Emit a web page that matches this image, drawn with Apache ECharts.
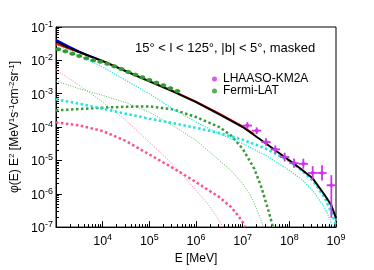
<!DOCTYPE html>
<html><head><meta charset="utf-8">
<script src="https://cdn.jsdelivr.net/npm/echarts@6/dist/echarts.min.js"></script>
<style>html,body{margin:0;padding:0;background:#fff}#c{width:374px;height:270px}</style>
</head><body><div id="c"></div>
<script>
// ================= DATA =================
// Model curves: energy [MeV] and phi(E)E^2 [MeV s^-1 cm^-2 sr^-1]
const totalE = [1e3, 1778, 3162, 5623, 1e4, 3.162e4, 1e5, 3.162e5, 1e6, 3.162e6, 1e7, 3.162e7, 5.623e7, 1e8, 1.778e8, 3.162e8, 5.623e8, 7.943e8, 1e9];
const totalY = [3.63e-2, 2.5e-2, 1.78e-2, 1.29e-2, 9.5e-3, 4.7e-3, 2.35e-3, 1.17e-3, 5.6e-4, 2.4e-4, 1.0e-4, 3.2e-5, 1.78e-5, 1.0e-5, 5.5e-6, 2.9e-6, 9.5e-7, 4.5e-7, 1.86e-7];

const redE = [1e3, 1778, 3162, 5623, 1e4, 3.162e4, 1e5, 3.162e5, 1e6, 3.162e6, 1e7, 1.778e7];
const redY = [3.15e-2, 2.3e-2, 1.72e-2, 1.28e-2, 9.7e-3, 4.85e-3, 2.43e-3, 1.24e-3, 5.9e-4, 2.55e-4, 1.06e-4, 6.1e-5];

const blueE = [1e3, 1778, 3162, 5623, 1e4];
const blueY = [4.1e-2, 2.7e-2, 1.82e-2, 1.3e-2, 9.5e-3];

const cyanThinE = [1e3, 3162, 1e4, 3.162e4, 1e5, 3.162e5, 1e6, 3.162e6, 1e7, 3.162e7, 1e8, 1.778e8, 3.162e8, 5.623e8, 7.079e8, 8.511e8];
const cyanThinY = [3.0e-2, 1.41e-2, 6.3e-3, 2.5e-3, 1.0e-3, 3.55e-4, 1.41e-4, 6.3e-5, 3.2e-5, 1.41e-5, 5.0e-6, 2.8e-6, 1.26e-6, 4.0e-7, 2.0e-7, 1.0e-7];

const cyanThickE = [1e3, 3162, 1e4, 3.162e4, 1e5, 3.162e5, 1e6, 3.162e6, 1e7, 3.162e7, 1e8, 1.778e8, 3.162e8, 5.623e8, 7.943e8, 1e9];
const cyanThickY = [6.8e-4, 5.0e-4, 3.55e-4, 2.5e-4, 1.78e-4, 1.32e-4, 9.5e-5, 6.6e-5, 4.2e-5, 2.24e-5, 9.5e-6, 5.2e-6, 2.5e-6, 7.9e-7, 2.8e-7, 1.12e-7];

const greenThickE = [1e3, 3162, 1e4, 3.162e4, 1e5, 3.162e5, 1e6, 1.778e6, 3.162e6, 5.623e6, 1e7, 1.778e7, 2.512e7, 3.548e7, 4.467e7];
const greenThickY = [3.16e-4, 3.47e-4, 3.8e-4, 4.07e-4, 4.17e-4, 3.4e-4, 2.0e-4, 1.41e-4, 1.0e-4, 5.6e-5, 2.24e-5, 5.6e-6, 1.58e-6, 3.2e-7, 1.0e-7];

const greenThinE = [1e3, 3162, 1e4, 3.162e4, 1e5, 3.162e5, 1e6, 3.162e6, 5.623e6, 1e7, 1.413e7, 1.995e7, 2.818e7];
const greenThinY = [2.4e-3, 1.41e-3, 8.9e-4, 5.4e-4, 2.8e-4, 1.12e-4, 4.0e-5, 1.0e-5, 5.0e-6, 2.0e-6, 1.0e-6, 3.5e-7, 1.0e-7];

const pinkThinE = [1e3, 3162, 1e4, 3.162e4, 1e5, 3.162e5, 1e6, 1.778e6, 2.818e6, 3.981e6];
const pinkThinY = [5.2e-3, 1.78e-3, 5.6e-4, 1.58e-4, 3.5e-5, 7.9e-6, 1.26e-6, 5.0e-7, 2.0e-7, 8.9e-8];

const pinkThickE = [1e3, 3162, 1e4, 3.162e4, 1e5, 3.162e5, 1e6, 3.162e6, 5.623e6, 7.943e6, 1e7, 1.122e7];
const pinkThickY = [1.38e-4, 1.12e-4, 7.6e-5, 3.8e-5, 1.51e-5, 6.0e-6, 2.24e-6, 7.9e-7, 4.0e-7, 2.24e-7, 1.41e-7, 1.0e-7];

// Fermi-LAT data points
const fermiE   = [1122, 1585, 2239, 3162, 4467, 6310, 8913, 12589, 17783, 25119, 35481, 50119, 70795, 100000, 141254, 199526, 281838, 398107];
const fermiElo = [1000, 1380, 1950, 2754, 3890, 5495, 7762, 10965, 15488, 21878, 30903, 43652, 61660, 87096, 123027, 173780, 245471, 346737];
const fermiEhi = [1288, 1820, 2570, 3631, 5129, 7244, 10233, 14454, 20417, 28840, 40738, 57544, 81283, 114815, 162181, 229087, 323594, 457088];
const fermiY   = [0.0214, 0.0186, 0.0158, 0.0135, 0.0115, 0.0100, 0.00912, 0.00794, 0.0066, 0.0055, 0.00447, 0.00372, 0.00309, 0.00257, 0.00214, 0.00178, 0.00145, 0.0012];

// LHAASO-KM2A data points
const lhaasoE   = [1.259e7, 1.995e7, 3.162e7, 5.012e7, 7.943e7, 1.259e8, 1.995e8, 3.162e8, 5.012e8, 7.943e8];
const lhaasoElo = [1e7, 1.585e7, 2.512e7, 3.981e7, 6.31e7, 1e8, 1.585e8, 2.512e8, 3.981e8, 6.31e8];
const lhaasoEhi = [1.585e7, 2.512e7, 3.981e7, 6.31e7, 1e8, 1.585e8, 2.512e8, 3.981e8, 6.31e8, 1e9];
const lhaasoY   = [1.11e-4, 7.8e-5, 3.55e-5, 2.14e-5, 1.26e-5, 8.3e-6, 7.9e-6, 4.2e-6, 4.2e-6, 1.8e-6];
const lhaasoYlo = [8.8e-5, 6.2e-5, 2.75e-5, 1.62e-5, 9.3e-6, 6.0e-6, 5.6e-6, 2.66e-6, 2.5e-6, 1.9e-7];
const lhaasoYhi = [1.40e-4, 9.8e-5, 4.6e-5, 2.8e-5, 1.7e-5, 1.15e-5, 1.12e-5, 6.7e-6, 7.1e-6, 3.6e-6];

// Axes
const xMin = 1000, xMax = 1e9, yMin = 1e-7, yMax = 1e-1;
const xDecades = [3, 4, 5, 6, 7, 8];      // decades that receive minor ticks 2..9
const yDecades = [-7, -6, -5, -4, -3, -2];
const minorMult = [2, 3, 4, 5, 6, 7, 8, 9];
const titleText = '15\u00b0 < l < 125\u00b0, |b| < 5\u00b0, masked';

// ================= CHART =================
const FONT = '"Liberation Sans", Arial, Helvetica, sans-serif';
const chart = echarts.init(document.getElementById('c'), null, {renderer: 'canvas'});

const xMinor = [], yMinor = [];
xDecades.forEach(d => minorMult.forEach(m => xMinor.push(d + Math.log10(m))));
yDecades.forEach(d => minorMult.forEach(m => yMinor.push(d + Math.log10(m))));

const pairs = (E, Y) => E.map((e, i) => [e, Y[i]]);

function curve(name, E, Y, color, width, dash, z) {
  return {
    type: 'line', name, data: pairs(E, Y), showSymbol: false, symbol: 'none',
    smooth: false, silent: true, z: z || 2,
    lineStyle: {color, width, type: dash, cap: 'butt', join: 'round'}
  };
}

function errBars(name, data, color, width, z) {
  return {
    type: 'custom', name, data, clip: true, silent: true, z: z || 5,
    encode: {x: [0, 1, 2], y: [3, 4, 5]},
    renderItem(params, api) {
      const xc = api.value(0), xl = api.value(1), xh = api.value(2);
      const yc = api.value(3), yl = api.value(4), yh = api.value(5);
      const pL = api.coord([xl, yc]), pH = api.coord([xh, yc]);
      const pB = api.coord([xc, yl]), pT = api.coord([xc, yh]);
      const style = {stroke: color, lineWidth: width};
      return {type: 'group', children: [
        {type: 'line', shape: {x1: pL[0], y1: pL[1], x2: pH[0], y2: pH[1]}, style},
        {type: 'line', shape: {x1: pB[0], y1: pB[1], x2: pT[0], y2: pT[1]}, style}
      ]};
    }
  };
}

const labelRich = {
  b: {fontSize: 12.5, fontFamily: FONT, color: '#000', lineHeight: 14, padding: [3, 0, 0, 0]},
  s: {fontSize: 9, fontFamily: FONT, color: '#000', lineHeight: 10, verticalAlign: 'top'}
};

const COL = {
  cyan: '#1fe6dc', greenDark: '#3a9a3a', greenLight: '#5cb85c',
  pinkThick: '#ff4f88', pinkThin: '#ff7aa6', fermi: '#2e9a2e', lhaaso: '#cc33ee'
};

const option = {
  animation: false,
  backgroundColor: '#fff',
  grid: {left: 56, right: 38, top: 27, bottom: 41, show: true, borderColor: '#000', borderWidth: 1, backgroundColor: 'transparent'},
  title: {text: titleText, left: 135, top: 42, padding: 0,
    textStyle: {fontSize: 13, fontWeight: 'normal', color: '#000', fontFamily: FONT}},
  legend: {
    orient: 'vertical', left: 212, top: 73, padding: 0, itemGap: 0,
    itemWidth: 5, itemHeight: 5, selectedMode: false,
    textStyle: {fontSize: 12, fontFamily: FONT, color: '#000', lineHeight: 11, padding: [0, 0, 0, 1]},
    data: [{name: 'LHAASO-KM2A', icon: 'circle'}, {name: 'Fermi-LAT', icon: 'circle'}]
  },
  xAxis: [{
    type: 'log', logBase: 10, min: xMin, max: xMax, position: 'bottom',
    name: 'E [MeV]', nameLocation: 'middle', nameGap: 21,
    nameTextStyle: {fontSize: 12, fontFamily: FONT, color: '#000'},
    axisLine: {show: true, lineStyle: {color: '#000', width: 1}},
    axisTick: {show: true, inside: true, length: 6, lineStyle: {color: '#000', width: 1}},
    axisLabel: {margin: 6, rich: labelRich,
      formatter: v => { const e = Math.round(Math.log10(v)); return e === 3 ? '' : '{b|10}{s|' + e + '}'; }},
    splitLine: {show: false}, minorTick: {show: false}
  }, {
    type: 'value', min: 3, max: 9, position: 'bottom',
    axisLine: {show: false}, axisLabel: {show: false}, splitLine: {show: false},
    axisTick: {show: true, inside: true, length: 3, lineStyle: {color: '#000', width: 1}, customValues: xMinor}
  }],
  yAxis: [{
    type: 'log', logBase: 10, min: yMin, max: yMax, position: 'left',
    name: '\u03c6(E) E{s|2} [MeV{s|1}s{s|-1}cm{s|-2}sr{s|-1}]', nameLocation: 'middle', nameGap: 31, nameRotate: 90,
    nameTextStyle: {fontSize: 12, fontFamily: FONT, color: '#000',
      rich: {s: {fontSize: 8, fontFamily: FONT, color: '#000', verticalAlign: 'top', lineHeight: 8}}},
    axisLine: {show: true, lineStyle: {color: '#000', width: 1}},
    axisTick: {show: true, inside: true, length: 6, lineStyle: {color: '#000', width: 1}},
    axisLabel: {margin: 3, rich: labelRich,
      formatter: v => { const e = Math.round(Math.log10(v)); return '{b|10}{s|-' + (-e) + '}'; }},
    splitLine: {show: false}
  }, {
    type: 'value', min: -7, max: -1, position: 'left',
    axisLine: {show: false}, axisLabel: {show: false}, splitLine: {show: false},
    axisTick: {show: true, inside: true, length: 3, lineStyle: {color: '#000', width: 1}, customValues: yMinor}
  }],
  series: [
    curve('pinkThin', pinkThinE, pinkThinY, COL.pinkThin, 1, [1, 1.5], 2),
    curve('pinkThick', pinkThickE, pinkThickY, COL.pinkThick, 2.5, [2.5, 2.5], 2),
    curve('greenThin', greenThinE, greenThinY, COL.greenLight, 1, [1, 1.5], 2),
    curve('greenThick', greenThickE, greenThickY, COL.greenDark, 2.5, [2.5, 2.5], 2),
    curve('cyanThick', cyanThickE, cyanThickY, COL.cyan, 2.5, [2.5, 2.5], 2),
    curve('cyanThin', cyanThinE, cyanThinY, COL.cyan, 1.2, [1.2, 1.3], 2),
    curve('red', redE, redY, '#ff0000', 1.5, 'solid', 3),
    curve('blue', blueE, blueY, '#0000ff', 2, 'solid', 3),
    curve('total', totalE, totalY, '#000000', 2, 'solid', 4),
    errBars('fermiErr', fermiE.map((e, i) => [e, fermiElo[i], fermiEhi[i], fermiY[i], fermiY[i], fermiY[i]]), COL.fermi, 2.5, 5),
    {type: 'scatter', name: 'Fermi-LAT', data: pairs(fermiE, fermiY), symbol: 'circle', symbolSize: 4.5,
      itemStyle: {color: COL.fermi}, z: 6, silent: true},
    errBars('lhaasoErr', lhaasoE.map((e, i) => [e, lhaasoElo[i], lhaasoEhi[i], lhaasoY[i], lhaasoYlo[i], lhaasoYhi[i]]), COL.lhaaso, 1.8, 5),
    {type: 'scatter', name: 'LHAASO-KM2A', data: pairs(lhaasoE, lhaasoY), symbol: 'circle', symbolSize: 4,
      itemStyle: {color: COL.lhaaso}, z: 6, silent: true}
  ]
};
chart.setOption(option);
</script>
</body></html>
